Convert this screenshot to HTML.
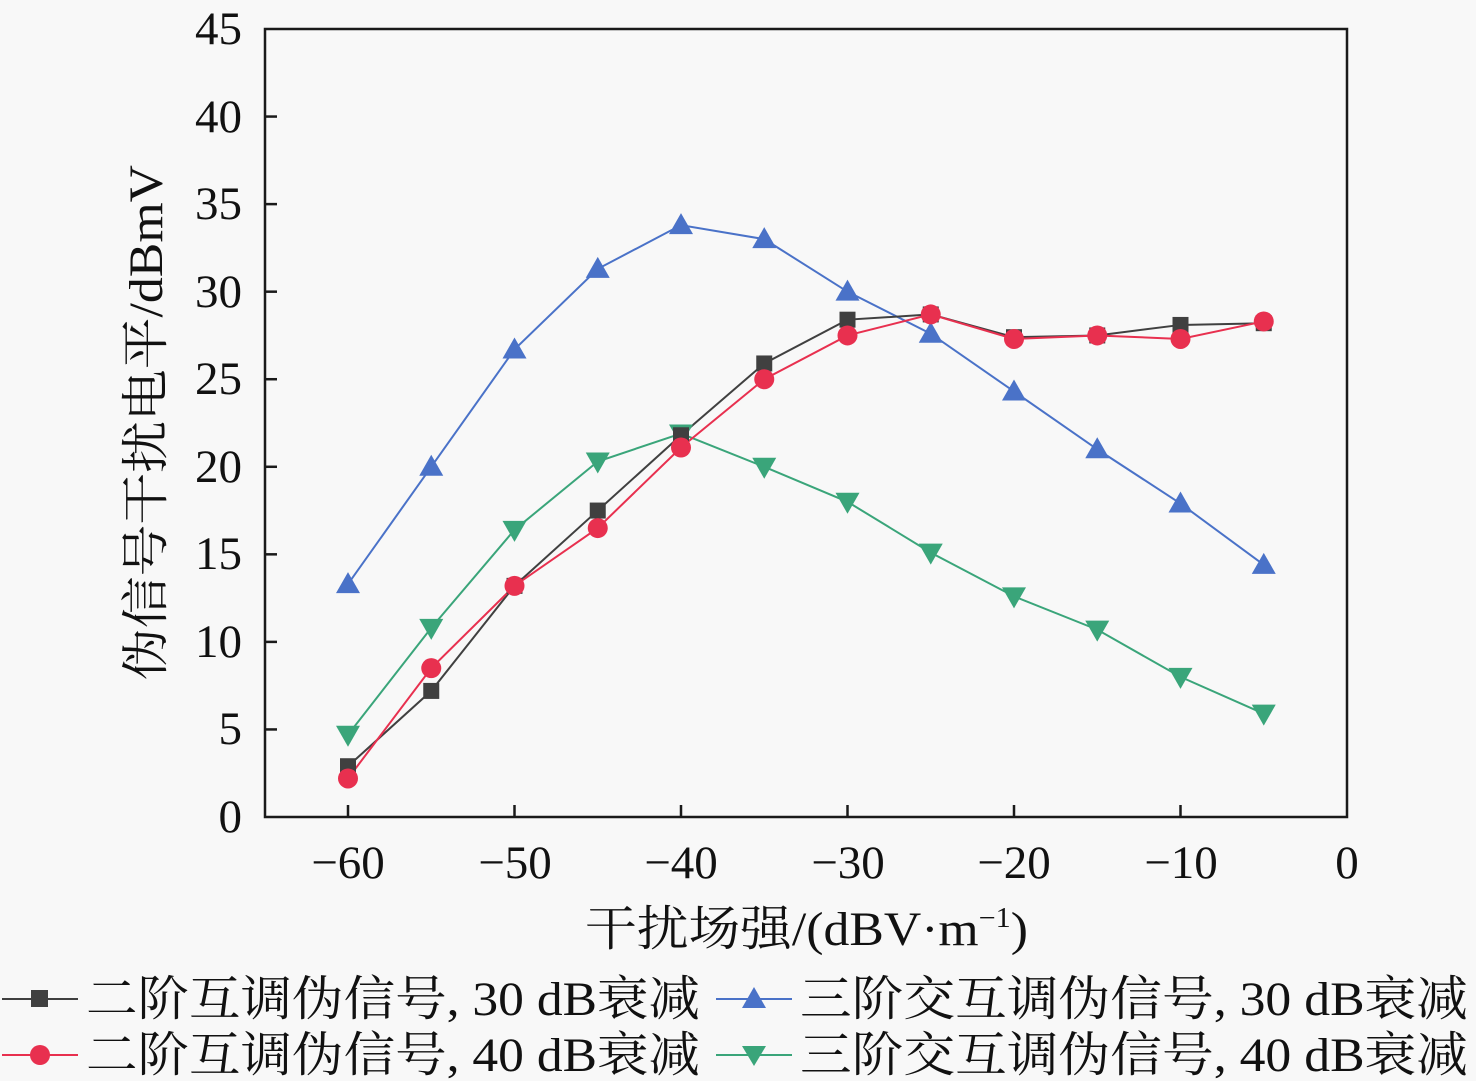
<!DOCTYPE html>
<html><head><meta charset="utf-8"><style>
body{margin:0;background:#f8f8f8}
svg{display:block}
text{font-family:"Liberation Serif","Noto Serif CJK SC",serif;fill:#111}
</style></head><body>
<svg id="s" width="1476" height="1081" viewBox="0 0 1476 1081">
<rect width="1476" height="1081" fill="#f8f8f8"/>
<rect x="265" y="29" width="1082" height="788" fill="none" stroke="#1a1a1a" stroke-width="2.5"/>
<g id="ticks" stroke="#1a1a1a" stroke-width="2.5"></g>
<g font-size="47" text-anchor="end">
<text x="242" y="832">0</text><text x="242" y="744">5</text><text x="242" y="657">10</text><text x="242" y="569">15</text><text x="242" y="482">20</text><text x="242" y="394">25</text><text x="242" y="307">30</text><text x="242" y="219">35</text><text x="242" y="132">40</text><text x="242" y="44">45</text>
</g>
<g font-size="47" text-anchor="middle">
<text x="348" y="878">−60</text><text x="515" y="878">−50</text><text x="681" y="878">−40</text><text x="848" y="878">−30</text><text x="1014" y="878">−20</text><text x="1181" y="878">−10</text><text x="1347" y="878">0</text>
</g>
<text x="585" y="945" font-size="48" textLength="443" lengthAdjust="spacingAndGlyphs">干扰场强/(dBV·m<tspan font-size="28" dy="-18">−1</tspan><tspan dy="18">)</tspan></text>
<text transform="translate(162,680) rotate(-90)" font-size="48" textLength="515" lengthAdjust="spacingAndGlyphs">伪信号干扰电平/dBmV</text>
<g id="series"></g>
<g font-size="48">
<line x1="2" y1="999" x2="78" y2="999" stroke="#404040" stroke-width="2"/><rect x="31" y="990" width="17" height="17" fill="#404040"/>
<text x="86" y="1015" textLength="614" lengthAdjust="spacingAndGlyphs">二阶互调伪信号, 30 dB衰减</text>
<line x1="2" y1="1055" x2="78" y2="1055" stroke="#e8304f" stroke-width="2"/><circle cx="40" cy="1055" r="10" fill="#e8304f"/>
<text x="86" y="1071" textLength="614" lengthAdjust="spacingAndGlyphs">二阶互调伪信号, 40 dB衰减</text>
<line x1="716" y1="999" x2="792" y2="999" stroke="#4a72c8" stroke-width="2"/><polygon points="754,987 766,1008 742,1008" fill="#4a72c8"/>
<text x="800" y="1015" textLength="668" lengthAdjust="spacingAndGlyphs">三阶交互调伪信号, 30 dB衰减</text>
<line x1="716" y1="1055" x2="792" y2="1055" stroke="#3aa57a" stroke-width="2"/><polygon points="742,1046 766,1046 754,1066" fill="#3aa57a"/>
<text x="800" y="1071" textLength="668" lengthAdjust="spacingAndGlyphs">三阶交互调伪信号, 40 dB衰减</text>
</g>
</svg>
<script>
const NS="http://www.w3.org/2000/svg";
const X=v=>348+(v+60)*16.65, Y=v=>817-v*17.511;
const t=document.getElementById('ticks');
function ln(g,a,b,c,d,attrs){const l=document.createElementNS(NS,'line');l.setAttribute('x1',a);l.setAttribute('y1',b);l.setAttribute('x2',c);l.setAttribute('y2',d);for(const k in attrs)l.setAttribute(k,attrs[k]);g.appendChild(l);}
for(let v=5;v<45;v+=5)ln(t,265,Y(v),277,Y(v),{});
for(let v=-60;v<0;v+=10)ln(t,X(v),817,X(v),805,{});
const xs=[-60,-55,-50,-45,-40,-35,-30,-25,-20,-15,-10,-5];
const S=[
{c:"#4a72c8",m:"up",d:[13.3,20.0,26.7,31.3,33.8,33.0,30.0,27.6,24.3,21.0,17.9,14.4]},
{c:"#3aa57a",m:"down",d:[4.7,10.8,16.4,20.3,21.9,20.0,18.0,15.1,12.6,10.7,8.0,5.9]},
{c:"#404040",m:"sq",d:[2.9,7.2,13.2,17.5,21.8,25.9,28.4,28.7,27.4,27.5,28.1,28.2]},
{c:"#e8304f",m:"ci",d:[2.2,8.5,13.2,16.5,21.1,25.0,27.5,28.7,27.3,27.5,27.3,28.3]}];
const g=document.getElementById('series');
S.forEach(s=>{const p=document.createElementNS(NS,'polyline');
p.setAttribute('points',s.d.map((v,i)=>X(xs[i])+','+Y(v)).join(' '));
p.setAttribute('fill','none');p.setAttribute('stroke',s.c);p.setAttribute('stroke-width','2');g.appendChild(p);});
S.forEach(s=>{s.d.forEach((v,i)=>{const x=X(xs[i]),y=Y(v);let e;
if(s.m=="sq"){e=document.createElementNS(NS,'rect');e.setAttribute('x',x-8);e.setAttribute('y',y-8);e.setAttribute('width',16);e.setAttribute('height',16);}
else if(s.m=="ci"){e=document.createElementNS(NS,'circle');e.setAttribute('cx',x);e.setAttribute('cy',y);e.setAttribute('r',10);}
else{e=document.createElementNS(NS,'polygon');e.setAttribute('points',s.m=="up"?`${x},${y-12} ${x+12},${y+9} ${x-12},${y+9}`:`${x-12},${y-9} ${x+12},${y-9} ${x},${y+12}`);}
e.setAttribute('fill',s.c);g.appendChild(e);});});
</script>
</body></html>
